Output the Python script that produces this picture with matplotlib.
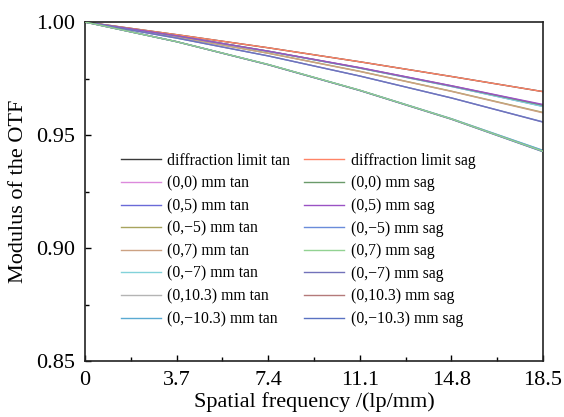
import matplotlib
matplotlib.use("Agg")
import matplotlib.pyplot as plt
from matplotlib.ticker import MultipleLocator, FixedLocator

plt.rcParams["font.family"] = ["Liberation Serif", "DejaVu Serif"]

# ---------- data --------------------------------------------------------
freq = [0.0, 3.7, 7.4, 11.1, 14.8, 18.5]

diff_tan = [1.0, 0.9944, 0.9886, 0.9824, 0.9759, 0.9692]
diff_sag = [1.0, 0.9944, 0.9886, 0.9824, 0.9759, 0.9692]
f00_tan = [1.0, 0.9939, 0.9871, 0.9798, 0.9718, 0.9633]
f00_sag = [1.0, 0.9939, 0.9871, 0.9797, 0.9717, 0.9632]
f05_tan = [1.0, 0.9939, 0.9870, 0.9796, 0.9715, 0.9627]
f05_sag = [1.0, 0.9939, 0.9871, 0.9798, 0.9718, 0.9635]
fm5_tan = [1.0, 0.9934, 0.9862, 0.9782, 0.9694, 0.9600]
fm5_sag = [1.0, 0.9929, 0.9850, 0.9761, 0.9664, 0.9558]
f07_tan = [1.0, 0.9934, 0.9862, 0.9781, 0.9693, 0.9598]
f07_sag = [1.0, 0.9913, 0.9812, 0.9698, 0.9571, 0.9428]
fm7_tan = [1.0, 0.9939, 0.9870, 0.9796, 0.9715, 0.9626]
fm7_sag = [1.0, 0.9929, 0.9850, 0.9761, 0.9664, 0.9557]
f10_tan = [1.0, 0.9913, 0.9812, 0.9698, 0.9572, 0.9431]
f10_sag = [1.0, 0.9913, 0.9811, 0.9697, 0.9570, 0.9427]
fm10_tan = [1.0, 0.9913, 0.9812, 0.9698, 0.9572, 0.9432]
fm10_sag = [1.0, 0.9913, 0.9811, 0.9697, 0.9570, 0.9426]

tan_series = [
    ("diffraction limit tan", diff_tan, "#3a3a3a"),
    ("(0,0) mm tan", f00_tan, "#dc8adc"),
    ("(0,5) mm tan", f05_tan, "#6a6ad8"),
    ("(0,\u22125) mm tan", fm5_tan, "#a8a45e"),
    ("(0,7) mm tan", f07_tan, "#cca283"),
    ("(0,\u22127) mm tan", fm7_tan, "#82d2da"),
    ("(0,10.3) mm tan", f10_tan, "#b4b4b4"),
    ("(0,\u221210.3) mm tan", fm10_tan, "#5aaad2"),
]
sag_series = [
    ("diffraction limit sag", diff_sag, "#ff8466"),
    ("(0,0) mm sag", f00_sag, "#6a9a6a"),
    ("(0,5) mm sag", f05_sag, "#9a52c4"),
    ("(0,\u22125) mm sag", fm5_sag, "#6a8cda"),
    ("(0,7) mm sag", f07_sag, "#92d292"),
    ("(0,\u22127) mm sag", fm7_sag, "#7272ba"),
    ("(0,10.3) mm sag", f10_sag, "#b47a7a"),
    ("(0,\u221210.3) mm sag", fm10_sag, "#5a72c2"),
]

x_ticks = [0, 3.7, 7.4, 11.1, 14.8, 18.5]
x_labels = ["0", "3.7", "7.4", "11.1", "14.8", "18.5"]
y_ticks = [0.85, 0.90, 0.95, 1.00]

# ---------- plot -----------------------------------------------------------
fig = plt.figure(figsize=(5.64, 4.17), dpi=100)
ax = fig.add_axes([0.1507, 0.1343, 0.8121, 0.8129])

handles = {}
for label, vals, col in tan_series + sag_series:
    handles[label], = ax.plot(freq, vals, color=col, lw=1.0, label=label)
# the green sag curve sits on top in the lowest bundle
handles["(0,7) mm sag"].set_zorder(3)

ax.set_xlim(0, 18.5)
ax.set_ylim(0.85, 1.00)
ax.xaxis.set_major_locator(FixedLocator(x_ticks))
ax.set_xticklabels(x_labels)
ax.xaxis.set_minor_locator(MultipleLocator(1.85))
ax.yaxis.set_major_locator(FixedLocator(y_ticks))
ax.set_yticklabels([f"{v:.2f}" for v in y_ticks])
ax.yaxis.set_minor_locator(MultipleLocator(0.025))
ax.tick_params(which="both", direction="in", top=False, right=False,
               labelsize=16, width=1.0)
ax.tick_params(which="major", length=4.5, pad=7)
ax.tick_params(which="minor", length=3)
for sp in ax.spines.values():
    sp.set_linewidth(1.2)
    sp.set_color("#222222")

ax.set_xlabel("Spatial frequency /(lp/mm)", fontsize=16, labelpad=2)
ax.set_ylabel("Modulus of the OTF", fontsize=16, labelpad=6)

ax.legend(ncol=2, loc="upper left", bbox_to_anchor=(0.0786, 0.614),
          frameon=False, fontsize=11.3, handlelength=2.55,
          handletextpad=0.4, columnspacing=0.9, labelspacing=0.42,
          borderaxespad=0, borderpad=0)

fig.savefig("out.png", dpi=100)
